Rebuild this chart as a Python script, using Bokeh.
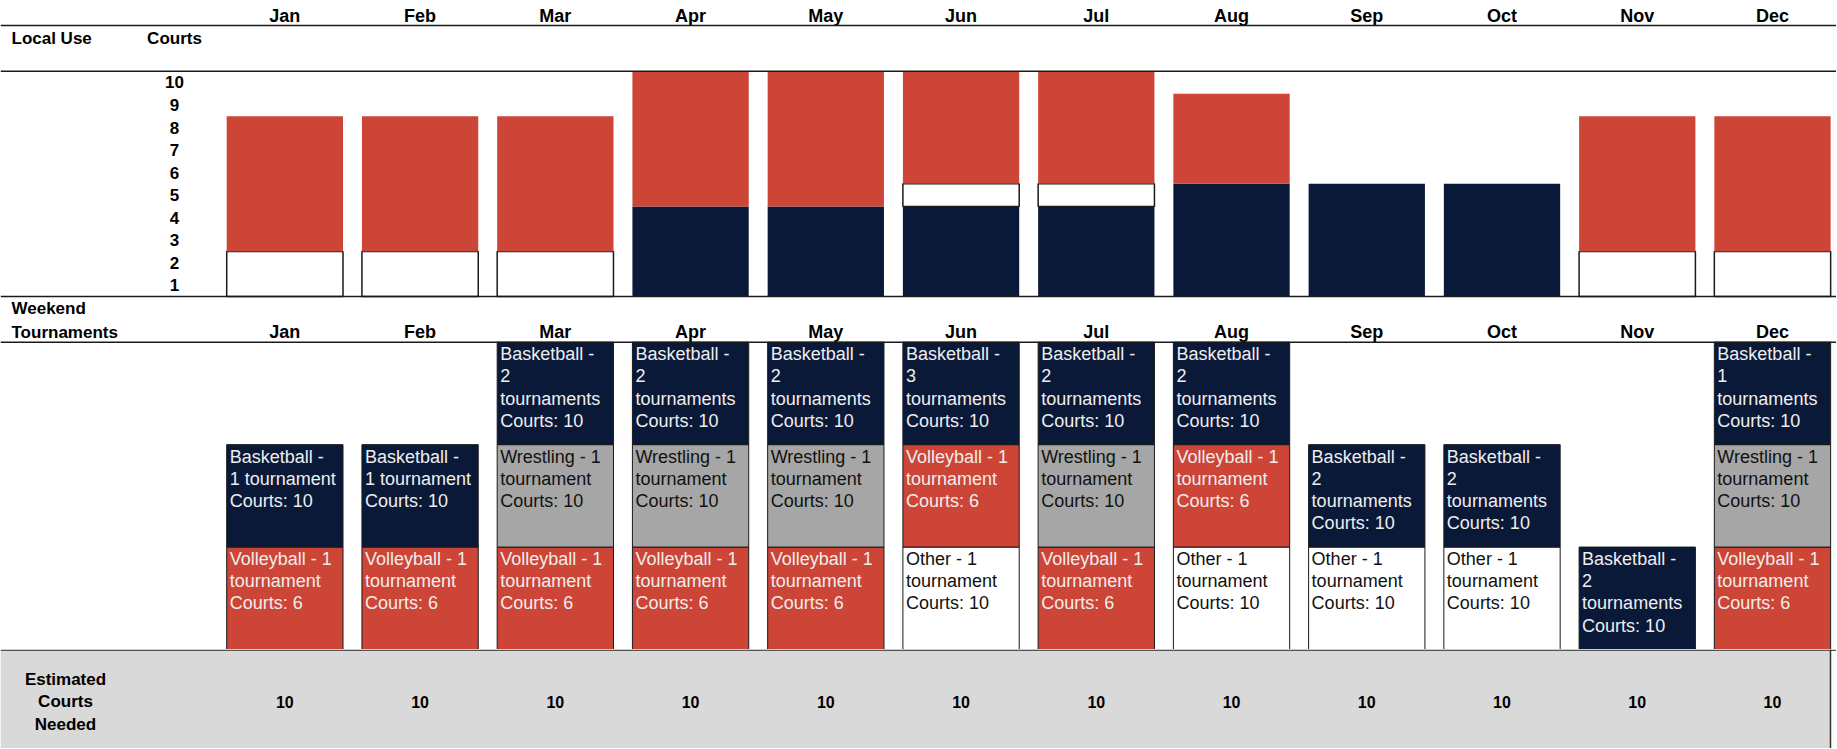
import numpy as np
from bokeh.plotting import figure
from bokeh.layouts import column
from bokeh.models import Range1d, Span, BoxAnnotation
from bokeh.core.properties import value
from bokeh.embed import file_html
from bokeh.resources import INLINE

# ---------------- data ----------------
months = ["Jan", "Feb", "Mar", "Apr", "May", "Jun", "Jul", "Aug", "Sep", "Oct", "Nov", "Dec"]
court_ticks = [1, 2, 3, 4, 5, 6, 7, 8, 9, 10]

# Local use (courts), stacked bottom -> top
local_basketball = [0, 0, 0, 4, 4, 4, 4, 5, 5, 5, 0, 0]
local_other = [2, 2, 2, 0, 0, 1, 1, 0, 0, 0, 2, 2]
local_volleyball = [6, 6, 6, 6, 6, 5, 5, 4, 0, 0, 6, 6]

# Weekend tournaments, stacked bottom -> top (None = no tournament)
tour_row1_sport = ["Volleyball", "Volleyball", "Volleyball", "Volleyball", "Volleyball", "Other",
                   "Volleyball", "Other", "Other", "Other", "Basketball", "Volleyball"]
tour_row1_label = ["Volleyball - 1 tournament", "Volleyball - 1 tournament", "Volleyball - 1 tournament",
                   "Volleyball - 1 tournament", "Volleyball - 1 tournament", "Other - 1 tournament",
                   "Volleyball - 1 tournament", "Other - 1 tournament", "Other - 1 tournament",
                   "Other - 1 tournament", "Basketball - 2 tournaments", "Volleyball - 1 tournament"]
tour_row1_courts = [6, 6, 6, 6, 6, 10, 6, 10, 10, 10, 10, 6]

tour_row2_sport = ["Basketball", "Basketball", "Wrestling", "Wrestling", "Wrestling", "Volleyball",
                   "Wrestling", "Volleyball", "Basketball", "Basketball", None, "Wrestling"]
tour_row2_label = ["Basketball - 1 tournament", "Basketball - 1 tournament", "Wrestling - 1 tournament",
                   "Wrestling - 1 tournament", "Wrestling - 1 tournament", "Volleyball - 1 tournament",
                   "Wrestling - 1 tournament", "Volleyball - 1 tournament", "Basketball - 2 tournaments",
                   "Basketball - 2 tournaments", None, "Wrestling - 1 tournament"]
tour_row2_courts = [10, 10, 10, 10, 10, 6, 10, 6, 10, 10, None, 10]

tour_row3_sport = [None, None, "Basketball", "Basketball", "Basketball", "Basketball",
                   "Basketball", "Basketball", None, None, None, "Basketball"]
tour_row3_label = [None, None, "Basketball - 2 tournaments", "Basketball - 2 tournaments",
                   "Basketball - 2 tournaments", "Basketball - 3 tournaments",
                   "Basketball - 2 tournaments", "Basketball - 2 tournaments", None, None, None,
                   "Basketball - 1 tournaments"]
tour_row3_courts = [None, None, 10, 10, 10, 10, 10, 10, None, None, None, 10]

estimated_courts = [10, 10, 10, 10, 10, 10, 10, 10, 10, 10, 10, 10]

# ---------------- style ----------------
NAVY = "#0B1939"
RED = "#CD4536"
GRAY = "#A6A6A6"
BAND = "#D9D9D9"
LINE = "#1A1A1A"
LIGHT_TXT = "#EEEEEE"
DARK_TXT = "#111111"
FONT = value("Liberation Sans")

sport_fill = {"Basketball": NAVY, "Volleyball": RED, "Wrestling": GRAY, "Other": "white"}
sport_text = {"Basketball": LIGHT_TXT, "Volleyball": LIGHT_TXT, "Wrestling": DARK_TXT, "Other": DARK_TXT}

W_PX = 1836
PITCH = 135.24
X0 = -284.35 / PITCH
X1 = X0 + W_PX / PITCH
BAR_W = 0.86
xs = np.arange(len(months), dtype=float)

CHAR_W = {"a": .556, "b": .556, "e": .556, "g": .556, "h": .556, "i": .222, "k": .5, "l": .222,
          "m": .833, "n": .556, "o": .556, "r": .333, "s": .5, "t": .278, "u": .556, "y": .5,
          "B": .667, "O": .778, "V": .667, "W": .944, "-": .333, " ": .278}


def text_width(s, size=18):
    return sum(CHAR_W.get(c, .556) for c in s) * size


def wrap(s, maxw=107.5):
    lines, cur = [], ""
    for w in s.split(" "):
        t = w if not cur else cur + " " + w
        if text_width(t) <= maxw:
            cur = t
        else:
            lines.append(cur)
            cur = w
    lines.append(cur)
    return "\n".join(lines)


def base_fig(h, y0, y1, bg="white"):
    p = figure(width=W_PX, height=h, x_range=Range1d(X0, X1), y_range=Range1d(y0, y1),
               output_backend="svg", toolbar_location=None, x_axis_type=None, y_axis_type=None,
               title=None, min_border=0, min_border_left=0, min_border_right=0,
               min_border_top=0, min_border_bottom=0)
    p.grid.visible = False
    p.outline_line_color = None
    p.background_fill_color = bg
    p.border_fill_color = bg
    return p


def hline(p, y, color=LINE, w=1.5):
    p.add_layout(Span(location=y, dimension="width", line_color=color, line_width=w))


# ---------------- top: local use ----------------
U1 = 22.53  # px per court
H1 = 298
p1 = base_fig(H1, -2 / U1, -2 / U1 + H1 / U1)

bottom = np.zeros(len(months))
for vals, col, lc in [(local_basketball, NAVY, None), (local_other, "white", LINE),
                      (local_volleyball, RED, None)]:
    v = np.array(vals, dtype=float)
    m = v > 0
    p1.vbar(x=xs[m], bottom=bottom[m], top=(bottom + v)[m], width=BAR_W,
            fill_color=col, line_color=lc, line_width=1.5)
    bottom = bottom + v

hline(p1, (296 - 25) / U1)
hline(p1, 10)
hline(p1, 0)

p1.text(x=xs, y=[(296 - 15.7) / U1] * 12, text=months, text_align="center", text_baseline="middle",
        text_font=FONT, text_font_style="bold", text_font_size="18px", text_color="black")
p1.text(x=[X0 + 11 / PITCH], y=[(296 - 37.7) / U1], text=["Local Use"], text_align="left",
        text_baseline="middle", text_font=FONT, text_font_style="bold", text_font_size="17px",
        text_color="black")
p1.text(x=[X0 + 174 / PITCH], y=[(296 - 37.7) / U1], text=["Courts"], text_align="center",
        text_baseline="middle", text_font=FONT, text_font_style="bold", text_font_size="17px",
        text_color="black")
p1.text(x=[X0 + 174 / PITCH] * len(court_ticks), y=[k - 0.5 for k in court_ticks],
        text=[str(k) for k in court_ticks], text_align="center", text_baseline="middle",
        text_font=FONT, text_font_style="bold", text_font_size="17px", text_color="black")

# ---------------- middle: weekend tournaments ----------------
R = 102.43  # px per row
H2 = 351
p2 = base_fig(H2, 0, H2 / R)

rows = [(tour_row1_sport, tour_row1_label, tour_row1_courts),
        (tour_row2_sport, tour_row2_label, tour_row2_courts),
        (tour_row3_sport, tour_row3_label, tour_row3_courts)]
for r, (sports, labels, courts) in enumerate(rows):
    idx = [i for i, s in enumerate(sports) if s is not None]
    bx = [xs[i] for i in idx]
    fills = [sport_fill[sports[i]] for i in idx]
    p2.vbar(x=bx, bottom=r, top=r + 1, width=BAR_W, fill_color=fills, line_color=LINE, line_width=1)
    txt = [wrap(labels[i]) + "\nCourts: %d" % courts[i] for i in idx]
    tcol = [sport_text[sports[i]] for i in idx]
    p2.text(x=[xs[i] - BAR_W / 2 for i in idx], y=[r + 1] * len(idx), text=txt, x_offset=3, y_offset=2,
            text_align="left", text_baseline="top", text_font=FONT, text_font_size="18px",
            text_line_height=1.11, text_color=tcol)

hline(p2, 3)
p2.text(x=[X0 + 11 / PITCH], y=[(649 - 308.3) / R], text=["Weekend"], text_align="left",
        text_baseline="middle", text_font=FONT, text_font_style="bold", text_font_size="17px",
        text_color="black")
p2.text(x=[X0 + 11 / PITCH], y=[(649 - 331.7) / R], text=["Tournaments"], text_align="left",
        text_baseline="middle", text_font=FONT, text_font_style="bold", text_font_size="17px",
        text_color="black")
p2.text(x=xs, y=[(649 - 331.7) / R] * 12, text=months, text_align="center", text_baseline="middle",
        text_font=FONT, text_font_style="bold", text_font_size="18px", text_color="black")

# ---------------- bottom: estimated courts ----------------
H3 = 99
B3 = 649 + H3
p3 = base_fig(H3, 0, H3, bg="white")
p3.add_layout(BoxAnnotation(left=X0, right=X0 + 1830 / PITCH, fill_color=BAND, fill_alpha=1,
                            line_color=None, level="underlay"))
p3.add_layout(Span(location=H3 - 0.8, dimension="width", line_color="#555555", line_width=1.5))
p3.add_layout(Span(location=X0 + 1830 / PITCH, dimension="height", line_color="#333333", line_width=1.5))
p3.text(x=[X0 + 65 / PITCH], y=[B3 - 701.5], text=["Estimated\nCourts\nNeeded"], text_align="center",
        text_baseline="middle", text_font=FONT, text_font_style="bold", text_font_size="17px",
        text_line_height=1.21, text_color="black")
p3.text(x=xs, y=[B3 - 701.7] * 12, text=[str(v) for v in estimated_courts], text_align="center",
        text_baseline="middle", text_font=FONT, text_font_style="bold", text_font_size="16px",
        text_color="black")

layout = column(p1, p2, p3)
open("out.html", "w").write(file_html(layout, INLINE))
